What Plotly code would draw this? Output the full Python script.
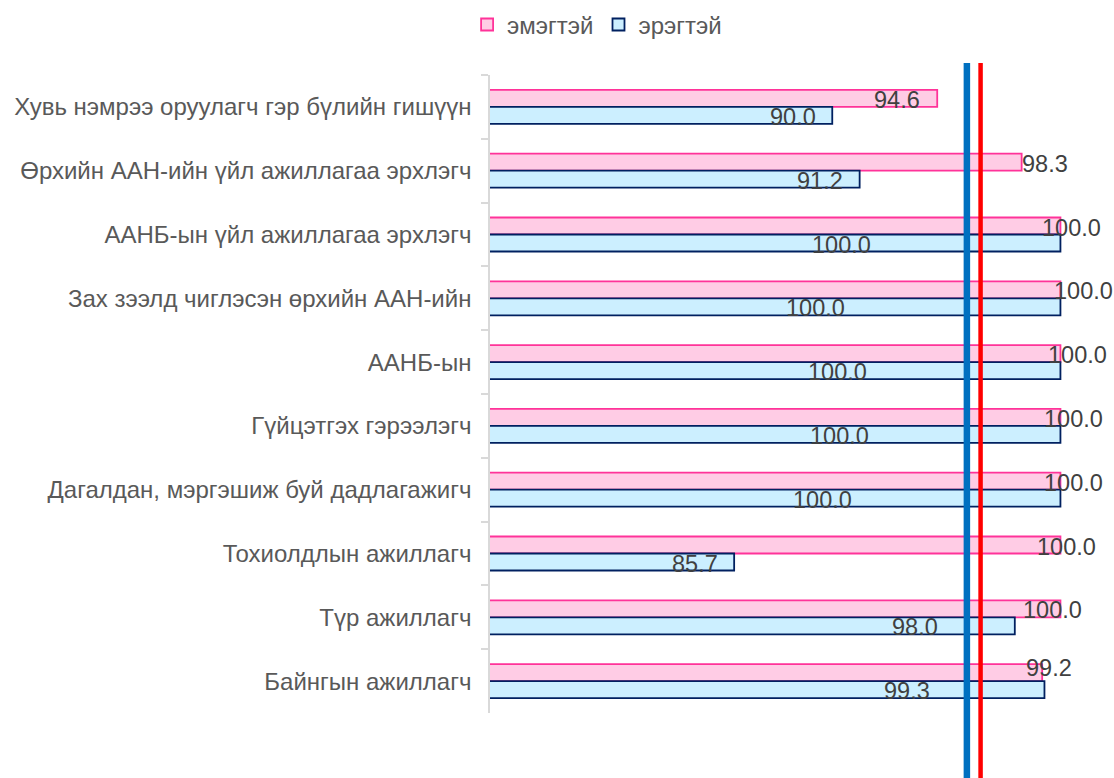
import plotly.graph_objects as go

categories = [
    "Хувь нэмрээ оруулагч гэр бүлийн гишүүн",
    "Өрхийн ААН-ийн үйл ажиллагаа эрхлэгч",
    "ААНБ-ын үйл ажиллагаа эрхлэгч",
    "Зах зээлд чиглэсэн өрхийн ААН-ийн",
    "ААНБ-ын",
    "Гүйцэтгэх гэрээлэгч",
    "Дагалдан, мэргэшиж буй дадлагажигч",
    "Тохиолдлын ажиллагч",
    "Түр ажиллагч",
    "Байнгын ажиллагч",
]
female = [94.6, 98.3, 100.0, 100.0, 100.0, 100.0, 100.0, 100.0, 100.0, 99.2]
male = [90.0, 91.2, 100.0, 100.0, 100.0, 100.0, 100.0, 85.7, 98.0, 99.3]
series_names = ["эмэгтэй", "эрэгтэй"]
ref_blue = 95.9
ref_red = 96.5

# label placement offsets (px) relative to bar ends (manually placed labels in the original)
female_dx = [-40, 23, 11, 23, 17, 13, 13, 6, -8, 7]
female_dy = [7, 7, 7, 7, 7, 7, 7, 7, 7, 13]
male_dx = [-39, -40, -219, -245, -223, -221, -238, -39, -100, -137]
male_dy = [-10] * 10

FONT = "Liberation Sans, Arial, sans-serif"
GRAY = "#595959"
LABEL = "#404040"

fig = go.Figure()
fig.add_trace(go.Bar(
    y=categories, x=female, orientation="h", name=series_names[0],
    marker=dict(color="#FFCCE5", line=dict(color="#FF3399", width=1.8)),
))
fig.add_trace(go.Bar(
    y=categories, x=male, orientation="h", name=series_names[1],
    marker=dict(color="#CCEFFF", line=dict(color="#002060", width=1.8)),
))

ann = []
for c, v, dx, dy in zip(categories, female, female_dx, female_dy):
    ann.append(dict(x=v, y=c, xref="x", yref="y", text=f"{v:.1f}", showarrow=False,
                    xshift=dx, yshift=dy, font=dict(family=FONT, size=23.5, color=LABEL)))
for c, v, dx, dy in zip(categories, male, male_dx, male_dy):
    ann.append(dict(x=v, y=c, xref="x", yref="y", text=f"{v:.1f}", showarrow=False,
                    xshift=dx, yshift=dy, font=dict(family=FONT, size=23.5, color=LABEL)))

shapes = [
    dict(type="line", xref="x", yref="paper", x0=ref_blue, x1=ref_blue, y0=-0.11, y1=1.019,
         line=dict(color="#0070C0", width=6.5)),
    dict(type="line", xref="x", yref="paper", x0=ref_red, x1=ref_red, y0=-0.11, y1=1.019,
         line=dict(color="#FF0000", width=4.5)),
]

fig.update_layout(
    width=1114, height=778,
    margin=dict(l=490, r=49, t=75, b=65),
    paper_bgcolor="white", plot_bgcolor="white",
    barmode="group", bargap=0.467, bargroupgap=0,
    font=dict(family=FONT, size=24, color=GRAY),
    legend=dict(orientation="h", xref="container", yref="container", x=0.536, y=0.968,
                xanchor="center", yanchor="middle", font=dict(size=24, color=GRAY),
                itemwidth=30, tracegroupgap=0),
    annotations=ann,
    shapes=shapes,
    xaxis=dict(range=[75, 100.2], visible=False, showgrid=False, zeroline=False),
    yaxis=dict(autorange="reversed", showgrid=False, showline=True, linecolor="#D9D9D9",
               linewidth=1.5, ticks="outside", tickson="boundaries", ticklen=7,
               tickcolor="#D9D9D9", tickwidth=1.5, ticklabelstandoff=12,
               tickfont=dict(family=FONT, size=24, color=GRAY)),
)

fig.write_html("out.html", config={"displayModeBar": False},
               post_script="document.body.style.margin='0';document.body.style.overflow='hidden';")
